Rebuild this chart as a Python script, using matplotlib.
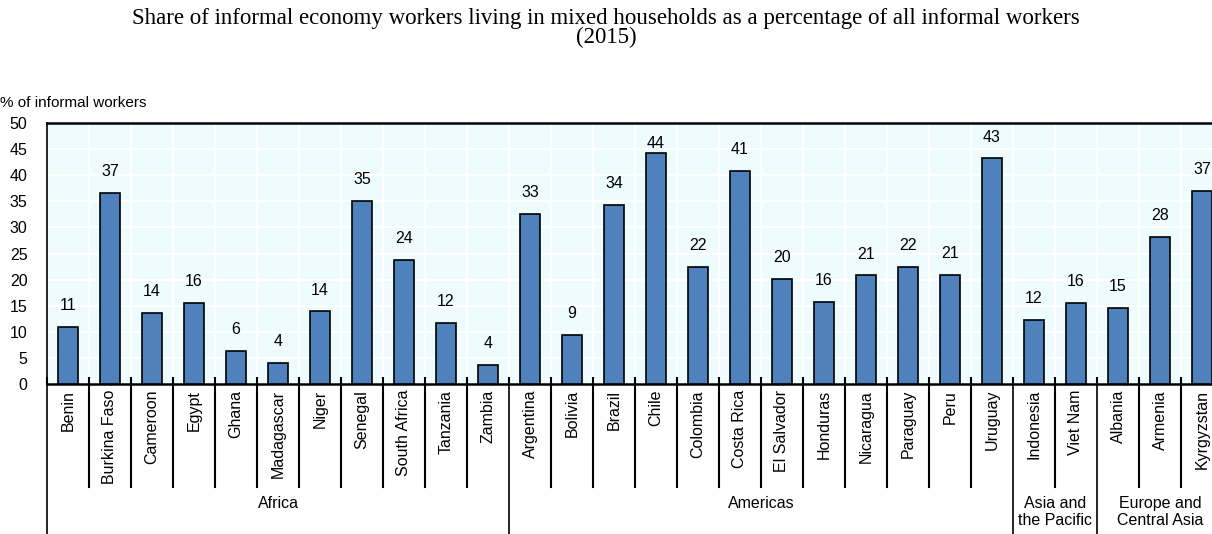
import numpy as np
import matplotlib
matplotlib.use('Agg')
import matplotlib.pyplot as plt

COUNTRIES = ['Benin', 'Burkina Faso', 'Cameroon', 'Egypt', 'Ghana', 'Madagascar',
             'Niger', 'Senegal', 'South Africa', 'Tanzania', 'Zambia',
             'Argentina', 'Bolivia', 'Brazil', 'Chile', 'Colombia', 'Costa Rica',
             'El Salvador', 'Honduras', 'Nicaragua', 'Paraguay', 'Peru', 'Uruguay',
             'Indonesia', 'Viet Nam',
             'Albania', 'Armenia', 'Kyrgyzstan']
VALUES = [10.9, 36.6, 13.6, 15.6, 6.4, 4.1,
          13.9, 35.1, 23.7, 11.7, 3.7,
          32.6, 9.4, 34.3, 44.3, 22.4, 40.9,
          20.1, 15.8, 20.8, 22.4, 20.9, 43.2,
          12.3, 15.6,
          14.6, 28.1, 37.0]
REGIONS = ['Africa', 'Americas', 'Asia and\nthe Pacific', 'Europe and\nCentral Asia']
REGION_SIZES = [11, 12, 2, 3]

TITLE = ('Share of informal economy workers living in mixed households as a '
         'percentage of all informal workers\n(2015)')
YLABEL = '% of informal workers'

NARROW = ['Liberation Sans Narrow', 'Liberation Sans', 'DejaVu Sans']
SERIF = ['Liberation Serif', 'DejaVu Serif']
BAR_COLOR = '#4F81BD'
BG_COLOR = '#EFFCFE'

plt.rcParams['font.family'] = NARROW

fig = plt.figure(figsize=(12.12, 5.34), dpi=100)
# axes run slightly past the right edge of the figure (cropped in the original)
ax = fig.add_axes([47 / 1212, 1 - 384 / 534, (1223 - 47) / 1212, 261 / 534])
ax.set_facecolor(BG_COLOR)

n = len(COUNTRIES)
x = np.arange(n)
ax.bar(x, VALUES, width=0.46, color=BAR_COLOR, edgecolor='black',
       linewidth=1.2, zorder=3)
for xi, v in zip(x, VALUES):
    # the tallest label sits right on its bar to stay clear of the frame
    off = 1 if v > 44 else 10
    ax.annotate(f'{v:.0f}', (xi, v), xytext=(0, off), textcoords='offset points',
                ha='center', va='bottom', fontsize=11.5, zorder=4)

ax.set_xlim(-0.5, n - 0.5)
ax.set_ylim(0, 50)
ax.set_yticks(np.arange(0, 51, 5))
ax.tick_params(axis='y', length=0, labelsize=11.5, pad=14)
ax.set_xticks(np.arange(-0.5, n, 1.0))
ax.set_xticklabels([])
ax.tick_params(axis='x', direction='in', length=5, width=1.5, color='black')

ax.grid(True, color='white', linewidth=1.5, zorder=0)
ax.set_axisbelow(True)

for side in ('top', 'bottom'):
    ax.spines[side].set_linewidth(1.8)
    ax.spines[side].set_color('black')
ax.spines['left'].set_visible(False)
ax.spines['right'].set_visible(False)

trans = ax.get_xaxis_transform()
px = 1 / 261.0  # one pixel in axes height units

# country labels and separators under the axis
for xi, name in zip(x, COUNTRIES):
    ax.text(xi, -6 * px, name, rotation=90, ha='center', va='top',
            fontsize=11.5, transform=trans, clip_on=False)

group_edges = np.concatenate([[0], np.cumsum(REGION_SIZES)]) - 0.5
for b in np.arange(-0.5, n, 1.0):
    if np.any(np.isclose(b, group_edges)):
        ax.plot([b, b], [0, -150 * px], color='black', lw=1.2,
                transform=trans, clip_on=False)
    else:
        ax.plot([b, b], [0, -103 * px], color='black', lw=1.5,
                transform=trans, clip_on=False)
# left edge of the panel
ax.plot([-0.5, -0.5], [1, 0], color='black', lw=1.2, transform=trans,
        clip_on=False)

for i, region in enumerate(REGIONS):
    mid = (group_edges[i] + group_edges[i + 1]) / 2
    ax.text(mid, -112 * px, region, ha='center', va='top', fontsize=11.5,
            linespacing=1.15, transform=trans, clip_on=False)

fig.text(0.5, 1 - 28 / 534, TITLE, ha='center', va='center', fontsize=16.5,
         family=SERIF, linespacing=0.85)
fig.text(0.0, 1 - 103 / 534, YLABEL, ha='left', va='center', fontsize=11)

fig.savefig('out.png', dpi=100)
